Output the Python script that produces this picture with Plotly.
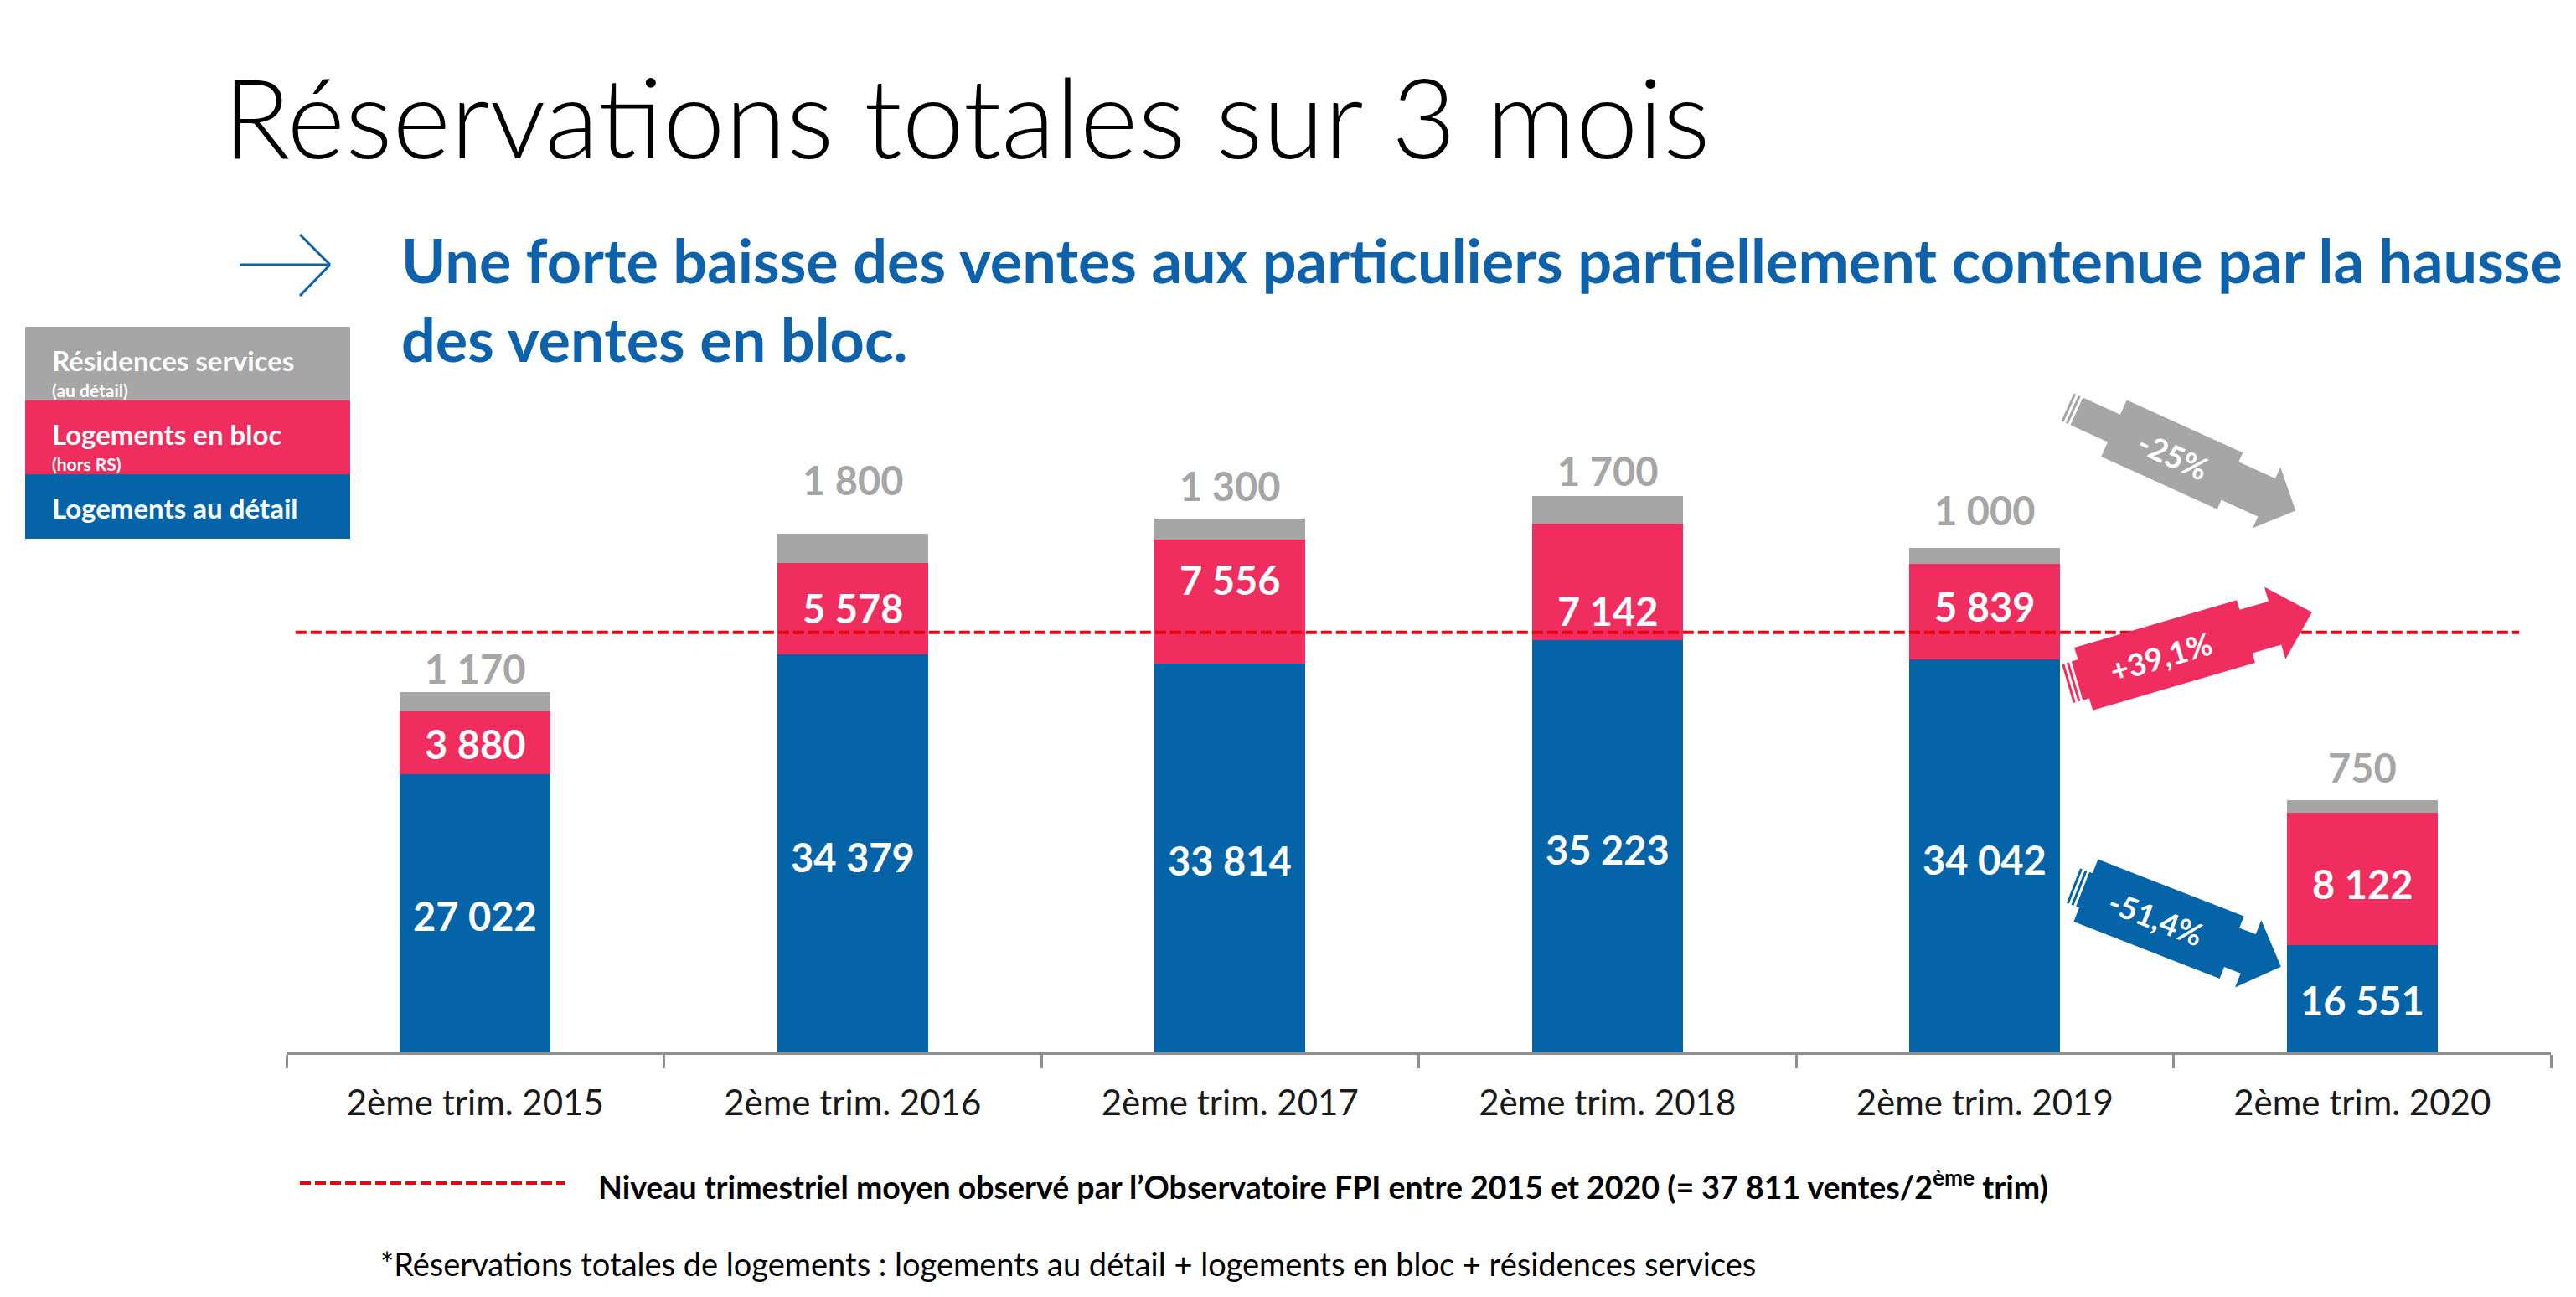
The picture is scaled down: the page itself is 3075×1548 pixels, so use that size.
import math
import plotly.graph_objects as go

# ---------------- data ----------------
categories = ["2ème trim. 2015", "2ème trim. 2016", "2ème trim. 2017",
              "2ème trim. 2018", "2ème trim. 2019", "2ème trim. 2020"]
logements_detail = [27022, 34379, 33814, 35223, 34042, 16551]
logements_bloc = [3880, 5578, 7556, 7142, 5839, 8122]
residences_services = [1170, 1800, 1300, 1700, 1000, 750]
avg_line_level = 35700          # level at which the dashed line is drawn on the chart
evolution_labels = ["-25%", "+39,1%", "-51,4%"]

# ---------------- styles ----------------
BLUE = "#0563A8"
PINK = "#EF2D5E"
GRAY = "#A6A6A6"
RED = "#E30613"
SUB_BLUE = "#0E62AB"
FONT = "Lato"

OFF = 8                      # default page margin of the html body
PAGE_W, PAGE_H = 3075, 1548
W, H = PAGE_W - 2 * OFF, PAGE_H - 2 * OFF
PLOT_LEFT, PLOT_RIGHT, BASELINE = 342, 3045, 1256   # in page pixels
L_M = PLOT_LEFT - OFF
R_M = W - (PLOT_RIGHT - OFF)
B_M = H - (BASELINE - OFF)
T_M = 0
PLOT_H = H - T_M - B_M
PX_PER_UNIT = 0.0195
Y0 = 10000
Y1 = Y0 + PLOT_H / PX_PER_UNIT

def px(x):
    return (x - PLOT_LEFT) / (PLOT_RIGHT - PLOT_LEFT)

def py(y):
    return (BASELINE - y) / PLOT_H

fig = go.Figure()
bar_w = 0.4
fig.add_trace(go.Bar(x=categories, y=logements_detail, marker_color=BLUE, width=bar_w,
                     marker_line_width=0, name="Logements au détail", hoverinfo="skip"))
fig.add_trace(go.Bar(x=categories, y=logements_bloc, marker_color=PINK, width=bar_w,
                     marker_line_width=0, name="Logements en bloc", hoverinfo="skip"))
fig.add_trace(go.Bar(x=categories, y=residences_services, marker_color=GRAY, width=bar_w,
                     marker_line_width=0, name="Résidences services", hoverinfo="skip"))

def fmt(v):
    return f"{v:,}".replace(",", " ")

ann = []
blue_shift = [-3, -5, -3, -4, -4, -2]
pink_shift = [-2, 0, 26, -34, 6, -6]
gray_gap = [28, 64, 39, 30, 45, 39]
for i, c in enumerate(categories):
    d, b, r = logements_detail[i], logements_bloc[i], residences_services[i]
    ann.append(dict(x=c, y=(Y0 + d) / 2, xref="x", yref="y",
                    text=fmt(d), showarrow=False, yshift=blue_shift[i],
                    xanchor="center", yanchor="middle",
                    font=dict(family=FONT, size=47, color="white", weight="bold")))
    ann.append(dict(x=c, y=d + b / 2, xref="x", yref="y", text=fmt(b), showarrow=False,
                    yshift=pink_shift[i], xanchor="center", yanchor="middle",
                    font=dict(family=FONT, size=47, color="white", weight="bold")))
    ann.append(dict(x=c, y=d + b + r, xref="x", yref="y", text=fmt(r), showarrow=False,
                    yshift=gray_gap[i], xanchor="center", yanchor="middle",
                    font=dict(family=FONT, size=47, color=GRAY, weight="bold")))

shapes = []
shapes.append(dict(type="line", xref="x", yref="y", x0=-0.476, x1=5.416,
                   y0=avg_line_level, y1=avg_line_level,
                   line=dict(color=RED, width=4, dash="13px,5px")))

# ---------- block arrows ----------
def arrow_shapes(tail, ang, Lr, t1, t2, t3, ht, hb, hn, hh, color):
    a = math.radians(ang)
    dx, dy = math.cos(a), math.sin(a)
    nx, ny = -math.sin(a), math.cos(a)

    def P(u, v):
        X = tail[0] + u * dx + v * nx
        Y = tail[1] + u * dy + v * ny
        return px(X), py(Y)

    def path(pts):
        s = "M " + " L ".join(f"{x:.5f},{y:.5f}" for x, y in pts) + " Z"
        return dict(type="path", xref="paper", yref="paper", path=s,
                    fillcolor=color, line=dict(width=0), layer="above")

    out = []
    out.append(path([P(0, -ht), P(3, -ht), P(3, ht), P(0, ht)]))
    out.append(path([P(6, -ht), P(9, -ht), P(9, ht), P(6, ht)]))
    main = [P(12, -ht), P(t1, -ht), P(t1, -hb), P(t2, -hb), P(t2, -hn), P(t3, -hn),
            P(t3, -hh), P(Lr, 0), P(t3, hh), P(t3, hn), P(t2, hn), P(t2, hb),
            P(t1, hb), P(t1, ht), P(12, ht)]
    out.append(path(main))
    return out, P

arrows = [
    dict(tail=(2468, 486), ang=24.4, Lr=299, t1=61, t2=213, t3=261, ht=18, hb=37, hn=25, hh=40,
         color=GRAY, tu=139),
    dict(tail=(2468, 816), ang=-16.3, Lr=304, t1=20, t2=222, t3=258, ht=24, hb=39, hn=27, hh=45,
         color=PINK, tu=116),
    dict(tail=(2475, 1057), ang=21.3, Lr=266, t1=16, t2=203, t3=224, ht=22, hb=40, hn=25, hh=43,
         color=BLUE, tu=106),
]
for lab, a in zip(evolution_labels, arrows):
    shp, P = arrow_shapes(a["tail"], a["ang"], a["Lr"], a["t1"], a["t2"], a["t3"],
                          a["ht"], a["hb"], a["hn"], a["hh"], a["color"])
    shapes += shp
    tx, ty = P(a["tu"], 0)
    ann.append(dict(x=tx, y=ty, xref="paper", yref="paper", text=lab, showarrow=False,
                    textangle=a["ang"], xanchor="center", yanchor="middle",
                    font=dict(family=FONT, size=37, color="white", weight="bold")))

# ---------- legend box ----------
leg = [(390, 478, GRAY), (478, 566, PINK), (566, 643, BLUE)]
for y0, y1, c in leg:
    shapes.append(dict(type="rect", xref="paper", yref="paper", x0=px(30), x1=px(418),
                       y0=py(y1), y1=py(y0), fillcolor=c, line=dict(width=0)))
leg_txt = [("Résidences services", 430, 33), ("(au détail)", 465, 21),
           ("Logements en bloc", 518, 33), ("(hors RS)", 553, 21),
           ("Logements au détail", 606, 33)]
for t, yc, s in leg_txt:
    ann.append(dict(x=px(60), y=py(yc), xref="paper", yref="paper", text=t, showarrow=False,
                    xanchor="left", yanchor="middle",
                    font=dict(family=FONT, size=s, color="white", weight="bold")))

# ---------- titles ----------
ann.append(dict(x=px(264), y=py(138), xref="paper", yref="paper",
                text="Réservations totales sur 3 mois", showarrow=False,
                xanchor="left", yanchor="middle",
                font=dict(family=FONT, size=133, color="black", weight=300)))
ann.append(dict(x=px(477), y=py(310), xref="paper", yref="paper",
                text="Une forte baisse des ventes aux particuliers partiellement contenue par la hausse",
                showarrow=False, xanchor="left", yanchor="middle",
                font=dict(family=FONT, size=72, color=SUB_BLUE, weight="bold")))
ann.append(dict(x=px(477), y=py(404), xref="paper", yref="paper",
                text="des ventes en bloc.", showarrow=False, xanchor="left", yanchor="middle",
                font=dict(family=FONT, size=72, color=SUB_BLUE, weight="bold")))
for (xa, ya, xb, yb) in [(286, 316, 394, 316), (358, 280, 394, 316), (358, 353, 394, 316)]:
    shapes.append(dict(type="line", xref="paper", yref="paper", x0=px(xa), y0=py(ya),
                       x1=px(xb), y1=py(yb), line=dict(color=SUB_BLUE, width=3)))

# ---------- footer ----------
shapes.append(dict(type="line", xref="paper", yref="paper", x0=px(358), x1=px(674),
                   y0=py(1412), y1=py(1412), line=dict(color=RED, width=4, dash="13px,5px")))
ann.append(dict(x=px(712), y=py(1414), xref="paper", yref="paper",
                text="Niveau trimestriel moyen observé par l’Observatoire FPI entre 2015 et 2020 (= 37 811 ventes/2<sup>ème</sup> trim)",
                showarrow=False, xanchor="left", yanchor="middle",
                font=dict(family=FONT, size=37.5, color="black", weight="bold")))
ann.append(dict(x=px(452), y=py(1508), xref="paper", yref="paper",
                text="*Réservations totales de logements : logements au détail + logements en bloc + résidences services",
                showarrow=False, xanchor="left", yanchor="middle",
                font=dict(family=FONT, size=38, color="black")))

fig.update_layout(
    width=W, height=H, autosize=False,
    margin=dict(l=L_M, r=R_M, t=T_M, b=B_M),
    barmode="stack", showlegend=False,
    plot_bgcolor="white", paper_bgcolor="white",
    annotations=ann, shapes=shapes,
    xaxis=dict(type="category", range=[-0.5, 5.5], showline=True, linecolor="#8F8F8F",
               linewidth=3, ticks="outside", tickson="boundaries", ticklen=16, tickwidth=3,
               tickcolor="#8F8F8F", showgrid=False, zeroline=False,
               tickfont=dict(family=FONT, size=42, color="#1A1A1A"), ticklabelstandoff=22),
    yaxis=dict(range=[Y0, Y1], visible=False, showgrid=False, zeroline=False),
)

fig.write_html("out.html")
